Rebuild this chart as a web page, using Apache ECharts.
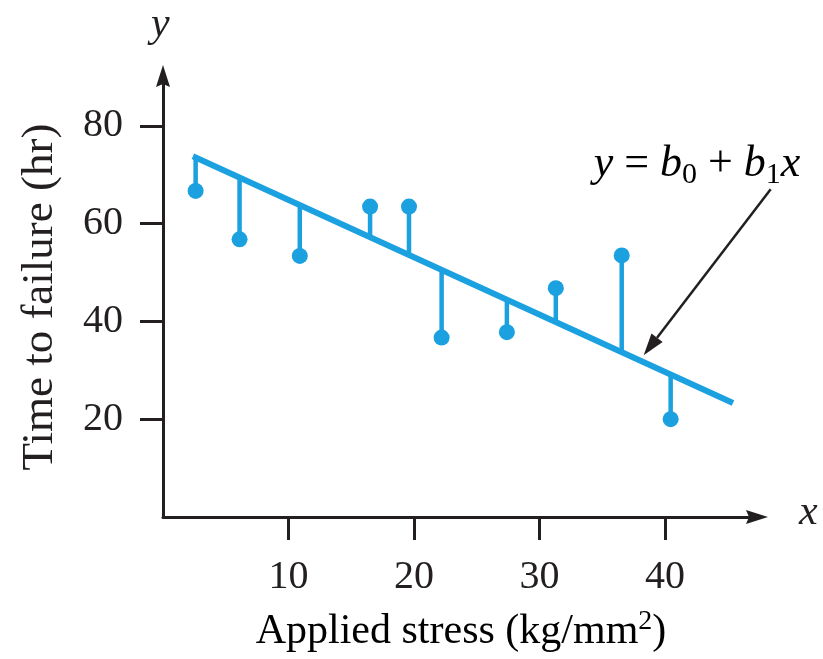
<!DOCTYPE html>
<html>
<head>
<meta charset="utf-8">
<script src="https://cdn.jsdelivr.net/npm/echarts@6/dist/echarts.min.js"></script>
<style>
  html, body { margin: 0; padding: 0; background: #ffffff; }
  #chart { width: 823px; height: 659px; }
</style>
</head>
<body>
<div id="chart"></div>
<script>
// Applied stress (kg/mm^2) and observed time to failure (hr)
const stress = [2.6, 6.1, 10.9, 16.5, 19.6, 22.2, 27.4, 31.3, 36.55, 40.45];
const failureTime = [66.7, 56.8, 53.4, 63.5, 63.5, 36.7, 37.8, 46.8, 53.5, 20.0];

// Fitted regression line y = b0 + b1 x and the x-range it is drawn over
const b0 = 76.6;
const b1 = -1.173;
const lineStart = 2.6;
const lineEnd = 45.2;

// Axis ticks
const xTicks = [10, 20, 30, 40];
const yTicks = [20, 40, 60, 80];

const BLUE = '#1ba0e0';
const INK = '#231f20';
const SERIF = '"Liberation Serif", "DejaVu Serif", serif';

const fit = x => b0 + b1 * x;
const points = stress.map((x, i) => [x, failureTime[i]]);
const residuals = stress.map((x, i) => [x, failureTime[i], fit(x)]);
const fitted = [[lineStart, fit(lineStart)], [lineEnd, fit(lineEnd)]];

const X_MAX = 47.33;
const Y_MAX = 90.2;

const chart = echarts.init(document.getElementById('chart'), null, { renderer: 'canvas' });

const axisCommon = {
  type: 'value',
  min: 0,
  splitLine: { show: false },
  axisLine: { show: true, onZero: false, lineStyle: { color: INK, width: 3 } },
  axisTick: { show: true, inside: false, length: 23, lineStyle: { color: INK, width: 3 } },
  axisLabel: { color: INK, fontFamily: SERIF, fontSize: 40 }
};

chart.setOption({
  animation: false,
  backgroundColor: '#ffffff',
  grid: { left: 163, top: 76, width: 594, height: 441, containLabel: false },
  xAxis: echarts.util.merge({
    max: X_MAX,
    axisTick: { customValues: xTicks },
    axisLabel: { customValues: xTicks, margin: 40 }
  }, axisCommon),
  yAxis: echarts.util.merge({
    max: Y_MAX,
    axisTick: { customValues: yTicks },
    axisLabel: { customValues: yTicks, margin: 40 }
  }, axisCommon),
  series: [
    {
      // vertical residual from each observation to the fitted line
      type: 'custom',
      data: residuals,
      z: 2,
      renderItem: (params, api) => {
        const a = api.coord([api.value(0), api.value(1)]);
        const b = api.coord([api.value(0), api.value(2)]);
        return {
          type: 'line',
          shape: { x1: a[0], y1: a[1], x2: b[0], y2: b[1] },
          style: { stroke: BLUE, lineWidth: 4.5 }
        };
      }
    },
    {
      type: 'line',
      data: fitted,
      symbol: 'none',
      z: 3,
      lineStyle: { color: BLUE, width: 6, cap: 'square' }
    },
    {
      type: 'scatter',
      data: points,
      symbol: 'circle',
      symbolSize: 16,
      z: 4,
      itemStyle: { color: BLUE, opacity: 1 }
    }
  ]
});

// Arrowheads at the open ends of both axes
const xEnd = chart.convertToPixel({ gridIndex: 0 }, [X_MAX, 0]);
const yEnd = chart.convertToPixel({ gridIndex: 0 }, [0, Y_MAX]);
const headLen = 22, headHalf = 7, notch = 3;
const xHead = [
  [xEnd[0] + 11, xEnd[1]],
  [xEnd[0] - 11, xEnd[1] - headHalf],
  [xEnd[0] - 11 + notch, xEnd[1]],
  [xEnd[0] - 11, xEnd[1] + headHalf]
];
const yHead = [
  [yEnd[0], yEnd[1] - 11],
  [yEnd[0] - headHalf, yEnd[1] + 11],
  [yEnd[0], yEnd[1] + 11 - notch],
  [yEnd[0] + headHalf, yEnd[1] + 11]
];

// Pointer from the equation to the fitted line
const tip = chart.convertToPixel({ gridIndex: 0 }, [38.3, fit(38.3)]);
const head = [tip[0], tip[1] - 7];
const tail = [head[0] + 127, head[1] - 166];
const ang = Math.atan2(head[1] - tail[1], head[0] - tail[0]);
const hl = headLen, hw = 7;
const back = [head[0] - hl * Math.cos(ang), head[1] - hl * Math.sin(ang)];
const arrowHead = [
  head,
  [back[0] + hw * Math.sin(ang), back[1] - hw * Math.cos(ang)],
  [back[0] - hw * Math.sin(ang), back[1] + hw * Math.cos(ang)]
];

const origin = chart.convertToPixel({ gridIndex: 0 }, [0, 0]);

chart.setOption({
  graphic: [
    { type: 'polygon', shape: { points: xHead }, style: { fill: INK }, z: 10 },
    { type: 'polygon', shape: { points: yHead }, style: { fill: INK }, z: 10 },
    {
      type: 'text', left: origin[0] - 12, top: 4,
      style: { text: 'y', font: 'italic 42px ' + SERIF, fill: INK }
    },
    {
      type: 'text', left: 799, top: 492,
      style: { text: 'x', font: 'italic 42px ' + SERIF, fill: INK }
    },
    {
      type: 'text', x: 40, y: 297, rotation: Math.PI / 2,
      style: {
        text: 'Time to failure (hr)', font: '45px ' + SERIF, fill: INK,
        align: 'center', verticalAlign: 'middle'
      }
    },
    {
      type: 'text', x: 461, y: 632,
      style: {
        text: '{a|Applied stress (kg/mm}{s|2}{a|)}',
        align: 'center', verticalAlign: 'middle',
        rich: {
          a: { fontFamily: SERIF, fontSize: 42, color: INK },
          s: { fontFamily: SERIF, fontSize: 28, color: INK, padding: [0, 0, 20, 0] }
        }
      }
    },
    {
      type: 'text', x: 697, y: 164,
      style: {
        text: '{i|y}{n| = }{i|b}{s|0}{n| + }{i|b}{s|1}{i|x}',
        align: 'center', verticalAlign: 'middle',
        rich: {
          i: { fontFamily: SERIF, fontStyle: 'italic', fontSize: 44, color: INK },
          n: { fontFamily: SERIF, fontSize: 44, color: INK },
          s: { fontFamily: SERIF, fontSize: 30, color: INK, padding: [22, 0, 0, 0] }
        }
      }
    },
    {
      type: 'line',
      shape: { x1: tail[0], y1: tail[1], x2: back[0], y2: back[1] },
      style: { stroke: INK, lineWidth: 2.5 }
    },
    {
      type: 'polygon',
      shape: { points: arrowHead },
      style: { fill: INK }
    }
  ]
});
</script>
</body>
</html>
